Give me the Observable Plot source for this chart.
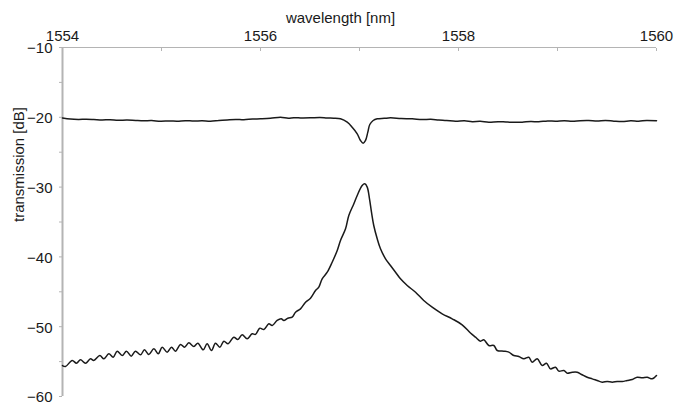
<!DOCTYPE html>
<html>
<head>
<meta charset="utf-8">
<script src="https://cdn.jsdelivr.net/npm/d3@7"></script>
<script src="https://cdn.jsdelivr.net/npm/@observablehq/plot@0.6"></script>
<style>
  html, body { margin: 0; padding: 0; background: #fff; }
</style>
</head>
<body>
<div id="chart"></div>
<script>
// Axis labels
const xLabel = "wavelength [nm]";
const yLabel = "transmission [dB]";

// Tick values
const xMajorTicks = [1554, 1556, 1558, 1560];
const xMinorTicks = [1554, 1555, 1556, 1557, 1558, 1559, 1560];
const yMajorTicks = [-60, -50, -40, -30, -20, -10];
const yMinorTicks = [-60, -55, -50, -45, -40, -35, -30, -25, -20, -15, -10];

// Upper trace (through port): wavelength [nm] and transmission [dB]
const upperWl = [1554.000, 1554.080, 1554.160, 1554.240, 1554.316, 1554.400, 1554.480, 1554.560, 1554.653,
  1554.740, 1554.820, 1554.900, 1554.990, 1555.080, 1555.160, 1555.240, 1555.327, 1555.410, 1555.495,
  1555.580, 1555.663, 1555.750, 1555.832, 1555.920, 1556.000, 1556.100, 1556.202, 1556.280, 1556.337,
  1556.420, 1556.505, 1556.600, 1556.673, 1556.740, 1556.808, 1556.876, 1556.926, 1556.977, 1557.010,
  1557.037, 1557.061, 1557.084, 1557.104, 1557.138, 1557.179, 1557.250, 1557.313, 1557.420, 1557.532,
  1557.633, 1557.720, 1557.800, 1557.880, 1557.970, 1558.060, 1558.140, 1558.220, 1558.306, 1558.400,
  1558.480, 1558.560, 1558.643, 1558.730, 1558.810, 1558.900, 1558.980, 1559.070, 1559.150, 1559.230,
  1559.316, 1559.400, 1559.485, 1559.570, 1559.654, 1559.740, 1559.820, 1559.900, 1560.000];
const upperDb = [-20.10, -20.25, -20.30, -20.28, -20.32, -20.38, -20.34, -20.42, -20.40,
  -20.46, -20.50, -20.47, -20.56, -20.52, -20.55, -20.48, -20.53, -20.50, -20.56,
  -20.45, -20.37, -20.30, -20.35, -20.25, -20.22, -20.15, -19.98, -20.12, -20.05,
  -20.10, -20.08, -20.02, -20.10, -20.12, -20.22, -20.70, -21.42, -22.36, -23.32,
  -23.71, -23.32, -22.13, -21.03, -20.46, -20.22, -20.15, -20.08, -20.18, -20.22,
  -20.32, -20.28, -20.38, -20.45, -20.56, -20.50, -20.62, -20.58, -20.70, -20.62,
  -20.68, -20.72, -20.70, -20.60, -20.64, -20.52, -20.56, -20.50, -20.58, -20.48,
  -20.46, -20.52, -20.45, -20.55, -20.61, -20.50, -20.55, -20.45, -20.48];

// Lower trace (drop port): wavelength [nm] and transmission [dB]
const lowerWl = [1554.000, 1554.030, 1554.098, 1554.141, 1554.182, 1554.232, 1554.283, 1554.316, 1554.377,
  1554.418, 1554.468, 1554.512, 1554.552, 1554.603, 1554.646, 1554.694, 1554.737, 1554.788, 1554.828,
  1554.872, 1554.923, 1554.967, 1555.007, 1555.057, 1555.101, 1555.141, 1555.192, 1555.232, 1555.276,
  1555.327, 1555.367, 1555.421, 1555.461, 1555.505, 1555.545, 1555.589, 1555.630, 1555.673, 1555.730,
  1555.771, 1555.815, 1555.865, 1555.916, 1555.949, 1555.993, 1556.034, 1556.084, 1556.118, 1556.168,
  1556.209, 1556.236, 1556.276, 1556.320, 1556.354, 1556.404, 1556.455, 1556.505, 1556.556, 1556.589,
  1556.623, 1556.674, 1556.724, 1556.775, 1556.808, 1556.859, 1556.892, 1556.943, 1556.977, 1557.027,
  1557.054, 1557.078, 1557.101, 1557.121, 1557.144, 1557.179, 1557.212, 1557.263, 1557.313, 1557.364,
  1557.414, 1557.482, 1557.566, 1557.649, 1557.734, 1557.835, 1557.936, 1558.037, 1558.121, 1558.172,
  1558.222, 1558.256, 1558.306, 1558.357, 1558.391, 1558.458, 1558.508, 1558.559, 1558.609, 1558.660,
  1558.710, 1558.744, 1558.795, 1558.845, 1558.889, 1558.929, 1558.980, 1559.013, 1559.064, 1559.098,
  1559.148, 1559.199, 1559.249, 1559.300, 1559.351, 1559.401, 1559.452, 1559.502, 1559.553, 1559.603,
  1559.654, 1559.704, 1559.755, 1559.805, 1559.856, 1559.906, 1559.957, 1560.000];
const lowerDb = [-55.56, -55.70, -54.84, -55.23, -54.75, -55.23, -54.60, -54.84, -54.13,
  -54.60, -53.89, -54.37, -53.51, -54.13, -53.51, -54.22, -53.51, -54.03, -53.31,
  -53.98, -53.17, -53.89, -52.94, -53.65, -52.94, -53.51, -52.55, -52.94, -52.31,
  -52.84, -52.36, -53.31, -52.45, -53.41, -52.36, -52.94, -52.07, -52.45, -51.50,
  -51.84, -51.17, -51.74, -51.02, -51.10, -50.21, -50.40, -49.59, -49.83, -49.11,
  -48.87, -49.11, -48.78, -48.64, -47.92, -47.44, -46.49, -45.92, -44.82, -44.34,
  -43.14, -42.19, -40.76, -39.08, -37.65, -35.98, -34.07, -32.39, -31.20, -29.77,
  -29.53, -30.01, -31.68, -33.59, -35.50, -37.41, -38.84, -40.27, -41.23, -42.19,
  -43.14, -44.10, -45.06, -46.25, -47.21, -48.15, -48.87, -49.73, -50.90, -51.50,
  -52.07, -51.88, -52.69, -52.69, -53.41, -53.51, -53.65, -54.13, -54.27, -54.60,
  -54.37, -55.09, -54.60, -55.56, -55.23, -56.04, -55.80, -56.37, -56.28, -56.66,
  -56.52, -56.52, -56.89, -57.24, -57.47, -57.71, -57.95, -57.85, -57.95, -57.85,
  -57.85, -57.71, -57.57, -57.24, -57.33, -57.24, -57.47, -56.99];

const upper = upperWl.map((w, i) => ({wl: w, db: upperDb[i]}));
const lower = lowerWl.map((w, i) => ({wl: w, db: lowerDb[i]}));

const axisGray = "#b4b4b4";
const ink = "#1a1a1a";

const chart = Plot.plot({
  width: 691,
  height: 405,
  marginLeft: 62,
  marginRight: 35,
  marginTop: 47,
  marginBottom: 9,
  style: {
    fontFamily: "'Liberation Sans', Arial, sans-serif",
    fontSize: "15px",
    background: "#fff",
    color: ink
  },
  x: {domain: [1554, 1560]},
  y: {domain: [-60, -10]},
  marks: [
    // axis lines
    Plot.ruleX([1554], {stroke: axisGray, strokeWidth: 2}),
    Plot.ruleY([-10], {stroke: axisGray, strokeWidth: 1}),
    // x axis on top: minor inward ticks, then labels
    Plot.axisX(xMinorTicks, {anchor: "top", tickSize: -3, stroke: axisGray, tickFormat: () => "", label: null}),
    Plot.axisX(xMajorTicks, {anchor: "top", tickSize: 0, tickPadding: 7, tickFormat: d => String(d), fill: ink, label: null}),
    // y axis on left
    Plot.axisY(yMinorTicks, {anchor: "left", tickSize: 3, stroke: axisGray, tickFormat: () => "", label: null}),
    Plot.axisY(yMajorTicks, {anchor: "left", tickSize: 0, tickPadding: 10, dy: 1, fill: ink, label: null}),
    // axis titles
    Plot.text([xLabel], {frameAnchor: "top", dx: -19, dy: -35, fill: ink, fontSize: 15}),
    Plot.text([yLabel], {frameAnchor: "left", dx: -43.5, rotate: -90, fill: ink, fontSize: 15}),
    // traces
    Plot.line(upper, {x: "wl", y: "db", stroke: ink, strokeWidth: 1.5, curve: "catmull-rom"}),
    Plot.line(lower, {x: "wl", y: "db", stroke: ink, strokeWidth: 1.5, curve: "catmull-rom"})
  ]
});

document.getElementById("chart").appendChild(chart);
</script>
</body>
</html>
